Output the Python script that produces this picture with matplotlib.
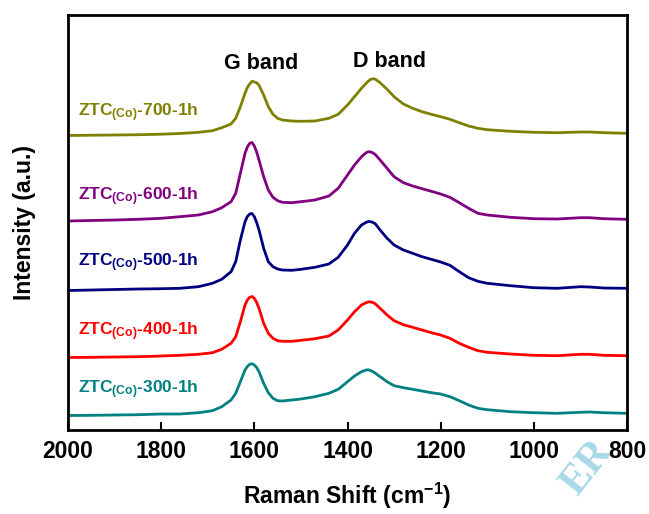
#!/usr/bin/env python3

import matplotlib
matplotlib.use("Agg")
import matplotlib.pyplot as plt

plt.rcParams['font.family'] = ['Liberation Sans', 'DejaVu Sans']
plt.rcParams['font.weight'] = 'bold'
plt.rcParams['mathtext.fontset'] = 'custom'
plt.rcParams['mathtext.rm'] = 'Liberation Sans:bold'
plt.rcParams['mathtext.bf'] = 'Liberation Sans:bold'
plt.rcParams['mathtext.it'] = 'Liberation Sans:bold'

# Raman shift (cm-1), shared by all spectra
wavenumber = [2000, 1950, 1900, 1850, 1800, 1760, 1720, 1690, 1670, 1650,
              1640, 1630, 1620, 1615, 1610, 1605, 1600, 1595, 1590, 1580,
              1570, 1560, 1550, 1540, 1520, 1500, 1470, 1440, 1420, 1400,
              1385, 1370, 1360, 1355, 1350, 1345, 1340, 1330, 1315, 1300,
              1280, 1260, 1240, 1220, 1200, 1180, 1160, 1140, 1120, 1100,
              1050, 1000, 950, 900, 880, 850, 800]

# stacked intensities (a.u.)
ztc_700 = [293.5, 293.8, 294, 294.3, 294.8, 295.5, 296.7, 298.3, 301.3, 305,
           310.7, 322.3, 335.7, 341.5, 345, 347.8, 347, 346.3, 343.7, 334,
           322.3, 314.7, 310.7, 309, 308, 307.7, 308, 310.7, 314.7, 324,
           332.3, 340.7, 345.7, 348, 349.7, 350.3, 349.7, 346.3, 339.7, 332.3,
           325, 320.7, 317.3, 314.7, 312.3, 309.7, 306.3, 303, 300.7, 299.3,
           297.7, 296.7, 296.3, 297, 297, 296.3, 295.7]
ztc_600 = [208, 208.5, 209, 209.7, 210.7, 212.3, 214, 217.3, 221.3, 227.3,
           235.7, 255.7, 275.7, 282, 285.7, 286.5, 283, 277, 269, 252.3,
           239, 231.7, 228.3, 226.7, 226.3, 227.3, 229, 233, 240.7, 254,
           264, 272.3, 276.3, 277.3, 277, 276, 274.3, 269, 260.7, 252.3,
           246.3, 243, 240.3, 237.7, 235, 231.7, 226.3, 220.7, 215.7, 214,
           211.7, 210.3, 210, 211.3, 211.3, 210.3, 209.7]
ztc_500 = [138.5, 139, 139.5, 140, 140.3, 140.7, 142.3, 145.7, 149.7, 157.3,
           167.3, 189, 207.3, 212.5, 215, 215.5, 212.3, 206.5, 199, 180.7,
           167.3, 162.3, 160, 159, 158.7, 159.7, 161.7, 165, 171.7, 184,
           195.7, 204, 206.7, 207.5, 207.3, 206.5, 205, 199, 190.7, 184,
           179, 175.7, 172.3, 169.7, 167, 163.7, 157.3, 151.3, 147.7, 145.7,
           143.3, 141.3, 140.7, 142.3, 142, 141, 140.7]
ztc_400 = [71.5, 71.7, 72, 72.3, 73, 73.7, 74.7, 76.3, 79.7, 85.7,
           92.3, 107.3, 124, 129, 131.7, 132.5, 130.7, 126.5, 120.7, 105.7,
           95.7, 90.7, 88.3, 87.7, 87.7, 88.7, 90.3, 93, 99, 109,
           117.3, 124, 126.3, 127.2, 127, 126.5, 125, 120.7, 114, 108.3,
           104.3, 101.7, 99, 96.3, 94, 90.7, 85.7, 81.7, 78.3, 76.7,
           75, 73.7, 73.3, 74.7, 74.7, 73.7, 73.3]
ztc_300 = [13.5, 13.7, 14, 14.3, 15, 15, 16.3, 18.3, 22.3, 29,
           35.7, 47.3, 59, 62.5, 64.7, 65.3, 64, 61.5, 57.3, 45.7,
           36.3, 30.7, 28.3, 28, 29, 30, 32.3, 35.7, 39.7, 47.3,
           53, 57.3, 59, 59.2, 58.3, 57.3, 55.7, 52.3, 47.3, 43.3,
           41.3, 39.7, 38, 36.3, 35, 32.3, 28.3, 24, 20.7, 19.3,
           17.3, 16.3, 15.7, 16.7, 17, 16.3, 15.7]

temps = ['700', '600', '500', '400', '300']
spectra = [ztc_700, ztc_600, ztc_500, ztc_400, ztc_300]
colors = ['#808000', '#800080', '#000080', '#ff0000', '#008080']
label_y = [313, 228.3, 162.3, 94, 35.7]

fig = plt.figure(figsize=(6.49, 5.14), dpi=100)
ax = fig.add_axes([0.1048, 0.1634, 0.8613, 0.8074])

for t, y, c, ly in zip(temps, spectra, colors, label_y):
    ax.plot(wavenumber, y, color=c, lw=2.0, solid_joinstyle='round')
    ax.text(1978, ly, r'ZTC$_{\mathbf{(Co)}}$-' + t + '-1h', color=c,
            fontsize=12.5, fontweight='bold', va='baseline', ha='left')

ax.text(1586, 359.7, 'G band', fontsize=15.5, fontweight='bold',
        ha='center', va='baseline')
ax.text(1309, 362.3, 'D band', fontsize=15.5, fontweight='bold',
        ha='center', va='baseline')

ax.set_xlim(2000, 800)
ax.set_ylim(-1, 414)
ax.set_xticks([2000, 1800, 1600, 1400, 1200, 1000, 800])
ax.set_yticks([])
ax.tick_params(axis='x', direction='in', length=6, width=1.5,
               labelsize=16.5, pad=7)
for lab in ax.get_xticklabels():
    lab.set_fontweight('bold')
for sp in ax.spines.values():
    sp.set_linewidth(2.0)

ax.set_xlabel(r'Raman Shift (cm$^{\mathbf{-1}}$)', fontsize=16.5,
              fontweight='bold', labelpad=13)
ax.set_ylabel('Intensity (a.u.)', fontsize=16.5, fontweight='bold',
              labelpad=23)

# faint watermark in the corner, kept behind the axes and tick labels
fig.text(0.905, 0.09, 'ER', color='#a9d9e8', fontsize=30,
         family=['Liberation Serif', 'DejaVu Serif'], rotation=52,
         ha='center', va='center', zorder=-1)

fig.savefig('out.png', dpi=100)
